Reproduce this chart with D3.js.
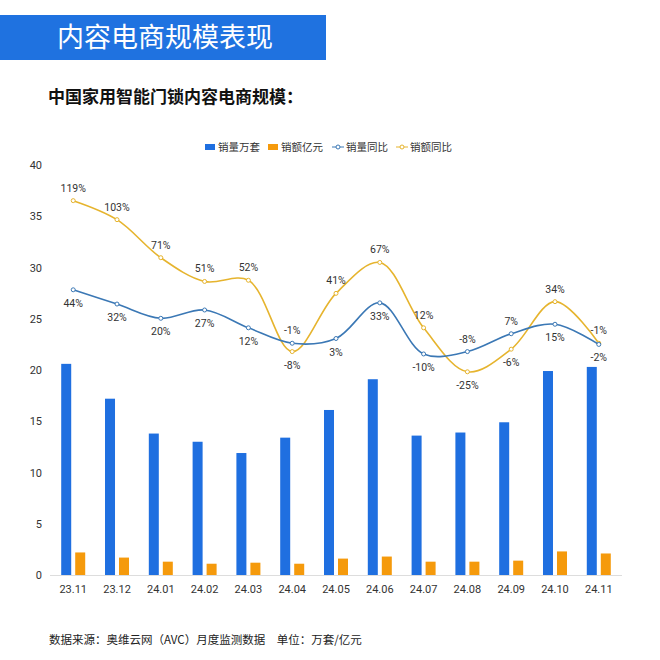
<!DOCTYPE html>
<html><head><meta charset="utf-8">
<script src="https://cdn.jsdelivr.net/npm/d3@7"></script>
<style>body{margin:0;background:#fff;font-family:"Noto Sans CJK SC","Noto Sans",sans-serif}</style>
</head><body><svg id="c" width="660" height="660"></svg>
<script>
const categories=["23.11","23.12","24.01","24.02","24.03","24.04","24.05","24.06","24.07","24.08","24.09","24.10","24.11"];
const volume=[20.6,17.2,13.8,13.0,11.9,13.4,16.1,19.1,13.6,13.9,14.9,19.9,20.3];
const sales=[2.2,1.7,1.3,1.1,1.2,1.1,1.6,1.8,1.3,1.3,1.4,2.3,2.1];
const volYoY=[44,32,20,27,12,-1,3,33,-10,-8,7,15,-2];
const salesYoY=[119,103,71,51,52,-8,41,67,12,-25,-6,34,-1];
const volLabelAbove=[0,0,0,0,0,1,0,0,0,1,1,0,0];
const salesLabelAbove=[1,1,1,1,1,0,1,1,1,0,0,1,1];
const yTicks=[0,5,10,15,20,25,30,35,40];
const legendNames=["销量万套","销额亿元","销量同比","销额同比"];
const BLUE="#1f6fe0",ORANGE="#f59a0c",LBLUE="#3b78b5",LYEL="#e6b42e";

const svg=d3.select("#c");
svg.append("rect").attr("x",0).attr("y",15).attr("width",326).attr("height",45).attr("fill","#1f72e0");
svg.append("text").attr("x",57).attr("y",47).attr("fill","#fff").attr("font-size",27).text("内容电商规模表现");
svg.append("text").attr("x",48).attr("y",103).attr("fill","#111").attr("font-size",17).attr("font-weight","bold").text("中国家用智能门锁内容电商规模：");

const m={l:50,r:622,t:165,b:575};
const x=d3.scaleBand().domain(categories).range([m.l,m.r]).paddingInner(0).paddingOuter(0.03);
const y=d3.scaleLinear().domain([0,40]).range([m.b,m.t]);
const y2=d3.scaleLinear().domain([-196,149]).range([m.b,m.t]);

const ya=svg.append("g").attr("transform",`translate(${m.l-5},0)`).call(d3.axisLeft(y).tickValues(yTicks).tickSize(0));
ya.select(".domain").remove();
ya.selectAll("text").attr("font-size",11).attr("fill","#333").attr("font-family","Roboto,sans-serif");
svg.append("line").attr("x1",m.l).attr("x2",m.r).attr("y1",m.b+0.5).attr("y2",m.b+0.5).attr("stroke","#ddd");
const xa=svg.append("g").attr("transform",`translate(0,${m.b})`).call(d3.axisBottom(x).tickSize(0).tickPadding(10));
xa.select(".domain").remove();
xa.selectAll("text").attr("font-size",11).attr("fill","#333").attr("font-family","Roboto,sans-serif");

const bw=10,c=d=>x(d)+x.bandwidth()/2;
svg.selectAll(".b1").data(categories).join("rect").attr("x",d=>c(d)-bw-2).attr("width",bw)
 .attr("y",(d,i)=>y(volume[i])).attr("height",(d,i)=>m.b-y(volume[i])).attr("fill",BLUE);
svg.selectAll(".b2").data(categories).join("rect").attr("x",d=>c(d)+2).attr("width",bw)
 .attr("y",(d,i)=>y(sales[i])).attr("height",(d,i)=>m.b-y(sales[i])).attr("fill",ORANGE);

function series(vals,col,above){
  const line=d3.line().x((d,i)=>c(categories[i])).y(d=>y2(d)).curve(d3.curveCatmullRom.alpha(0.5));
  svg.append("path").attr("d",line(vals)).attr("fill","none").attr("stroke",col).attr("stroke-width",1.6);
  svg.append("g").selectAll("circle").data(vals).join("circle").attr("cx",(d,i)=>c(categories[i])).attr("cy",d=>y2(d))
   .attr("r",2).attr("fill","#fff").attr("stroke",col).attr("stroke-width",1);
  svg.append("g").selectAll("text").data(vals).join("text").attr("x",(d,i)=>c(categories[i])).attr("y",(d,i)=>y2(d)+(above[i]?-9:17))
   .attr("text-anchor","middle").attr("font-size",10.5).attr("fill","#333").attr("font-family","Roboto,sans-serif").text(d=>d+"%");
}
series(salesYoY,LYEL,salesLabelAbove);
series(volYoY,LBLUE,volLabelAbove);

const lg=svg.append("g").attr("transform","translate(205,147)");
let lx=0;
legendNames.forEach((n,i)=>{
  const g=lg.append("g").attr("transform",`translate(${lx},0)`);
  if(i<2) g.append("rect").attr("x",0).attr("y",-3).attr("width",10).attr("height",6).attr("fill",i?ORANGE:BLUE);
  else{const col=i==2?LBLUE:LYEL;g.append("line").attr("x1",-1).attr("x2",11).attr("stroke",col);
    g.append("circle").attr("cx",5).attr("r",2).attr("fill","#fff").attr("stroke",col);}
  g.append("text").attr("x",13).attr("y",4).attr("font-size",10.5).attr("fill","#333").text(n);
  lx+=[63,65,64,60][i];
});
svg.append("text").attr("x",49).attr("y",644).attr("font-size",11.5).attr("fill","#222").text("数据来源：奥维云网（AVC）月度监测数据　单位：万套/亿元");
</script></body></html>
